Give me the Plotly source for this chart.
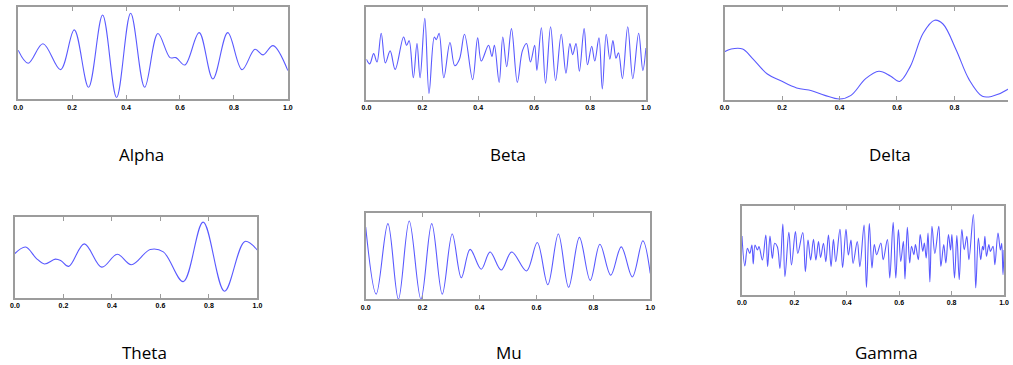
import plotly.graph_objects as go

# ---------------- data ----------------
alpha_x = [0.0, 0.037, 0.092, 0.157, 0.208, 0.261, 0.313, 0.365, 0.417, 0.469, 0.518,
           0.563, 0.585, 0.618, 0.671, 0.722, 0.777, 0.830, 0.878, 0.908, 0.945, 1.0]
alpha_y = [53, 39, 60, 32, 75, 13, 91, 2, 93, 13, 71,
           45, 45, 37, 72, 22, 72, 32, 54, 48, 58, 31]

beta_x = [0.0, 0.012, 0.026, 0.038, 0.053, 0.068, 0.085, 0.103, 0.133, 0.144, 0.153,
          0.168, 0.181, 0.192, 0.209, 0.224, 0.243, 0.250, 0.260, 0.277, 0.299, 0.316,
          0.333, 0.351, 0.380, 0.398, 0.411, 0.437, 0.449, 0.458, 0.475, 0.488, 0.502,
          0.519, 0.540, 0.558, 0.573, 0.587, 0.602, 0.610, 0.626, 0.641, 0.659, 0.677,
          0.697, 0.714, 0.728, 0.738, 0.750, 0.762, 0.779, 0.791, 0.806, 0.817, 0.832,
          0.844, 0.858, 0.871, 0.882, 0.893, 0.902, 0.916, 0.935, 0.953, 0.974, 0.989, 1.0]
beta_y = [44, 39, 50, 41, 72, 40, 53, 33, 68, 59, 64,
          24, 61, 24, 88, 7, 68, 65, 72, 24, 62, 37,
          44, 71, 22, 67, 42, 59, 47, 59, 19, 68, 36,
          77, 19, 53, 61, 41, 59, 32, 78, 18, 79, 21,
          71, 29, 61, 49, 61, 31, 77, 38, 58, 42, 67,
          12, 71, 44, 64, 45, 51, 23, 79, 23, 72, 32, 56]

delta_x = [0.0, 0.023, 0.063, 0.097, 0.149, 0.194, 0.251, 0.303, 0.349, 0.400, 0.440,
           0.491, 0.537, 0.577, 0.609, 0.646, 0.691, 0.731, 0.760, 0.806, 0.851, 0.897,
           0.931, 0.983, 1.0]
delta_y = [52, 55, 55, 45, 28, 21, 13, 10, 5, 1, 5,
           23, 31, 26, 20, 36, 72, 86, 82, 54, 22, 4,
           4, 11, 16]

theta_x = [0.0, 0.044, 0.088, 0.122, 0.167, 0.190, 0.222, 0.286, 0.358, 0.422, 0.480,
           0.558, 0.612, 0.694, 0.776, 0.864, 0.948, 1.0]
theta_y = [55, 63, 49, 42, 48, 46, 39, 67, 38, 54, 41,
           60, 57, 20, 94, 8, 70, 59]

mu_x = [0.0, 0.037, 0.078, 0.115, 0.153, 0.194, 0.232, 0.269, 0.304, 0.336, 0.367,
        0.406, 0.437, 0.476, 0.513, 0.565, 0.603, 0.640, 0.677, 0.713, 0.751, 0.789,
        0.823, 0.861, 0.898, 0.937, 0.974, 1.0]
mu_y = [84, 6, 88, 0, 91, 0, 88, 6, 76, 25, 58,
        35, 55, 34, 55, 33, 66, 17, 76, 14, 72, 22,
        64, 28, 61, 26, 68, 30]

gamma_x = [0.0, 0.011, 0.021, 0.030, 0.038, 0.043, 0.050, 0.059, 0.065, 0.078, 0.091,
           0.098, 0.107, 0.116, 0.125, 0.135, 0.145, 0.156, 0.164, 0.179, 0.189, 0.204,
           0.213, 0.232, 0.242, 0.252, 0.262, 0.273, 0.282, 0.292, 0.300, 0.311, 0.320,
           0.330, 0.340, 0.349, 0.358, 0.374, 0.384, 0.397, 0.406, 0.416, 0.424, 0.440,
           0.450, 0.466, 0.475, 0.486, 0.496, 0.505, 0.514, 0.530, 0.539, 0.555, 0.564,
           0.577, 0.587, 0.597, 0.606, 0.616, 0.622, 0.631, 0.640, 0.647, 0.656, 0.662,
           0.673, 0.680, 0.690, 0.696, 0.703, 0.710, 0.717, 0.725, 0.736, 0.751, 0.759,
           0.770, 0.778, 0.788, 0.796, 0.801, 0.811, 0.820, 0.829, 0.839, 0.848, 0.858,
           0.866, 0.883, 0.892, 0.902, 0.911, 0.918, 0.922, 0.927, 0.933, 0.942, 0.948,
           0.958, 0.965, 0.977, 0.986, 0.991, 0.996, 1.0]
gamma_y = [177, 87, 140, 125, 150, 93, 150, 135, 145, 105, 180,
           85, 177, 110, 155, 145, 80, 213, 55, 188, 90, 190,
           125, 187, 70, 165, 105, 167, 105, 160, 113, 155, 100,
           180, 85, 167, 100, 197, 82, 197, 120, 165, 95, 160,
           85, 210, 23, 214, 81, 151, 121, 156, 106, 166, 51,
           218, 51, 196, 101, 161, 48, 203, 96, 146, 121, 151,
           106, 181, 131, 156, 111, 186, 39, 206, 125, 206, 86,
           151, 96, 181, 135, 181, 51, 178, 46, 196, 136, 176,
           106, 241, 21, 171, 106, 146, 135, 176, 116, 151, 131,
           146, 91, 186, 135, 155, 61, 135]

titles = ["Alpha", "Beta", "Delta", "Theta", "Mu", "Gamma"]
tick_vals = [0.0, 0.2, 0.4, 0.6, 0.8, 1.0]
tick_text = ["0.0", "0.2", "0.4", "0.6", "0.8", "1.0"]

series = [(alpha_x, alpha_y), (beta_x, beta_y), (delta_x, delta_y),
          (theta_x, theta_y), (mu_x, mu_y), (gamma_x, gamma_y)]
y_ranges = [[0, 100], [0, 100], [0, 100], [0, 100], [0, 100], [0, 267]]

# ---------------- layout (pixel boxes) ----------------
W, H = 1013, 365
# left, top, right, bottom in pixels
boxes = [(13.3, 6.7, 285.7, 99.3),
         (365.0, 7.3, 647.3, 100.0),
         (726.7, 7.3, 1013.0, 100.0),
         (10.0, 217.3, 255.0, 297.7),
         (364.3, 213.3, 651.7, 299.3),
         (744.3, 206.0, 1009.0, 295.0)]
x_ranges = [[0, 1], [0, 1], [0, (1013 - 726.7) / (1017 - 726.7)], [0, 1], [0, 1], [0, 1]]
title_pos = [(138, 155), (508, 155), (894, 155), (141, 352), (509, 352), (890, 352)]

FRAME = "#9c9c9c"
LINE = "#5a5aff"

fig = go.Figure()
layout = dict(width=W, height=H, margin=dict(l=0, r=0, t=0, b=0, pad=0),
              paper_bgcolor="white", plot_bgcolor="white", showlegend=False,
              annotations=[])

for i, ((xs, ys), box) in enumerate(zip(series, boxes)):
    n = "" if i == 0 else str(i + 1)
    l, t, r, b = box
    fig.add_trace(go.Scatter(x=xs, y=ys, mode="lines", line=dict(color=LINE, width=1.1, shape="spline"),
                             xaxis="x" + n, yaxis="y" + n, hoverinfo="skip"))
    layout["xaxis" + n] = dict(domain=[l / W, r / W], range=x_ranges[i], anchor="y" + n,
                               showline=True, linecolor=FRAME, linewidth=2, mirror="ticks",
                               ticks="inside", ticklen=4, tickwidth=1, tickcolor=FRAME,
                               tickvals=tick_vals, ticktext=tick_text, showgrid=False, zeroline=False,
                               tickfont=dict(family="Liberation Sans Narrow, Liberation Sans", size=7,
                                             color="black", weight="bold"),
                               fixedrange=True)
    layout["yaxis" + n] = dict(domain=[1 - b / H, 1 - t / H], range=y_ranges[i], anchor="x" + n,
                               showline=True, linecolor=FRAME, linewidth=2,
                               mirror=(i != 2), ticks="", showticklabels=False,
                               showgrid=False, zeroline=False, fixedrange=True)
    cx, cy = title_pos[i]
    layout["annotations"].append(dict(text=titles[i], x=cx / W, y=1 - cy / H, xref="paper", yref="paper",
                                      xanchor="center", yanchor="middle", showarrow=False,
                                      font=dict(family="Open Sans", size=17, color="black")))

fig.update_layout(**layout)
fig.write_html("out.html", config={"displayModeBar": False})
